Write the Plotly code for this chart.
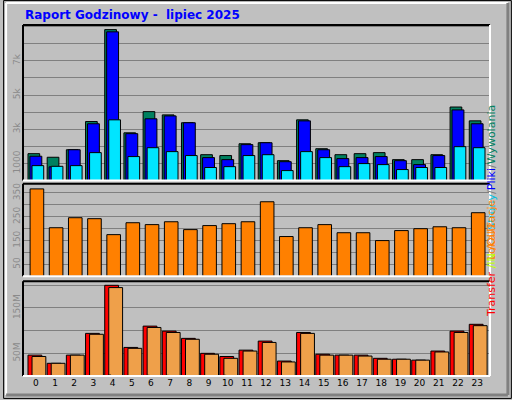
import plotly.graph_objects as go

hours = list(range(24))
hits = [1570,1360,1800,3450,8830,2790,4030,3840,3380,1510,1460,2150,2210,1160,3550,1860,1510,1570,1630,1220,1220,1510,4300,3490]
files = [1420,800,1800,3320,8700,2740,3610,3780,3380,1340,1220,2100,2210,1100,3490,1800,1280,1340,1400,1160,930,1460,4130,3320]
pages = [870,830,870,1630,3550,1400,1920,1690,1460,760,810,1460,1510,580,1690,1340,810,990,930,640,760,760,1980,1920]
visits = [367,204,246,242,175,225,217,229,196,213,221,229,313,167,204,217,183,183,150,192,200,208,204,267]
kb_transfer = [46,28,46,94,200,63,110,99,83,50,43,57,77,33,96,48,46,46,39,37,35,55,99,114]
kb_in = [1,0,0,0,2,0,1.5,1.5,0,0,1.5,0,0,0,0,0,0,0,0,0,0,0,1.5,0]
kb_out = [43,28,46,92,195,61,107,96,81,48,39,55,74,31,94,46,46,44,37,37,35,53,96,111]

fig = go.Figure()
L = dict(color="black", width=1)
def bar(y, color, off, w, ax):
    fig.add_trace(go.Bar(x=hours, y=y, marker=dict(color=color, line=L), offset=off, width=w,
                         xaxis="x" if ax == "y3" else ("x2" if ax == "y" else "x3"), yaxis=ax, showlegend=False))

bar(hits, "#00805F", -0.41, 0.61, "y")
bar(files, "#0000FF", -0.31, 0.62, "y")
bar(pages, "#00E5FF", -0.2, 0.61, "y")
bar(visits, "#FF8000", -0.3, 0.71, "y2")
bar(kb_transfer, "#FF0000", -0.41, 0.72, "y3")
bar(kb_out, "#EFA04A", -0.2, 0.72, "y3")
bar(kb_in, "#C0FF00", -0.2, 0.12, "y3")

xr = [-0.67, 23.67]
yt = dict(tickangle=-90, tickfont=dict(family="DejaVu Sans", size=9, color="#8a8a8a"),
          gridcolor="#808080", gridwidth=1, showline=False, zeroline=False, ticks="", fixedrange=True)
fig.update_layout(
    width=512, height=400, autosize=False,
    margin=dict(l=20, r=22, t=25, b=23),
    paper_bgcolor="#C0C0C0", plot_bgcolor="#C0C0C0", barmode="overlay",
    xaxis=dict(range=xr, tickvals=hours, ticktext=[str(h) for h in hours], showgrid=False, zeroline=False,
               tickfont=dict(family="DejaVu Sans", size=9, color="black"), anchor="y3", ticks=""),
    xaxis2=dict(range=xr, showticklabels=False, showgrid=False, zeroline=False, anchor="y", matches="x"),
    xaxis3=dict(range=xr, showticklabels=False, showgrid=False, zeroline=False, anchor="y2", matches="x"),
    yaxis=dict(domain=[0.557, 1.0], range=[0, 9100], tickvals=list(range(1000, 9001, 1000)),
               ticktext=["1000", "", "3k", "", "5k", "", "7k", "", ""], **yt),
    yaxis2=dict(domain=[0.284, 0.548], range=[0, 389], tickvals=list(range(50, 351, 50)),
                ticktext=["50", "", "150", "", "250", "", "350"], **yt),
    yaxis3=dict(domain=[0, 0.27], range=[0, 209], tickvals=[50, 100, 150, 200],
                ticktext=["50M", "", "150M", ""], **yt),
)

shapes = []
for d in [(0.557, 1.0), (0.284, 0.548), (0, 0.27)]:
    shapes.append(dict(type="line", xref="paper", yref="paper", x0=0, x1=1, y0=d[1], y1=d[1], line=dict(color="black", width=2)))
    shapes.append(dict(type="line", xref="paper", yref="paper", x0=0, x1=0, y0=d[0], y1=d[1], line=dict(color="black", width=2)))
    shapes.append(dict(type="line", xref="paper", yref="paper", x0=0, x1=1, y0=d[0], y1=d[0], line=dict(color="white", width=2)))
    shapes.append(dict(type="line", xref="paper", yref="paper", x0=1, x1=1, y0=d[0], y1=d[1], line=dict(color="white", width=2)))
def px(x, y):
    return (x - 20) / 470, (377 - y) / 352
x0, y0 = px(0.5, 0.5); x1, y1 = px(511.5, 399.5)
shapes.append(dict(type="rect", xref="paper", yref="paper", x0=x0, x1=x1, y0=y1, y1=y0, line=dict(color="black", width=1)))
a0, b0 = px(3, 3); a1, b1 = px(508, 396)
shapes.append(dict(type="line", xref="paper", yref="paper", x0=a0, x1=a1, y0=b0, y1=b0, line=dict(color="white", width=2)))
shapes.append(dict(type="line", xref="paper", yref="paper", x0=a0, x1=a0, y0=b0, y1=b1, line=dict(color="white", width=2)))
shapes.append(dict(type="line", xref="paper", yref="paper", x0=a0, x1=a1, y0=b1, y1=b1, line=dict(color="#808080", width=3)))
shapes.append(dict(type="line", xref="paper", yref="paper", x0=a1, x1=a1, y0=b0, y1=b1, line=dict(color="#808080", width=3)))
fig.update_layout(shapes=shapes)

f = "DejaVu Sans"
fig.add_annotation(x=px(20, 0)[0], y=px(0, 15)[1], xref="paper", yref="paper", xanchor="left", yanchor="middle",
                   text="<b>Raport Godzinowy -  lipiec 2025</b>", showarrow=False, font=dict(family=f, size=12, color="#0000FF"))
rx = px(500, 0)[0]
fig.add_annotation(x=rx, y=px(0, 103)[1], xref="paper", yref="paper", textangle=-90, showarrow=False,
                   text="<span style='color:#00C0E0'>Strony</span><span style='color:#808080'>/</span><span style='color:#0000FF'>Pliki</span><span style='color:#808080'>/</span><span style='color:#00805F'>Wywolania</span>",
                   font=dict(family=f, size=11))
fig.add_annotation(x=rx, y=px(0, 230)[1], xref="paper", yref="paper", textangle=-90, showarrow=False,
                   text="<span style='color:#FF8000'>Lokalizacje</span>", font=dict(family=f, size=11))
fig.add_annotation(x=rx, y=px(0, 320)[1], xref="paper", yref="paper", textangle=-90, showarrow=False,
                   text="<span style='color:#FF0000'>Transfer</span><span style='color:#C0FF00'> /IN</span><span style='color:#FF8000'> /OUT</span>",
                   font=dict(family=f, size=11))
fig.write_html("out.html", config={"displayModeBar": False},
               post_script="document.body.style.margin='0';document.body.style.overflow='hidden';")
